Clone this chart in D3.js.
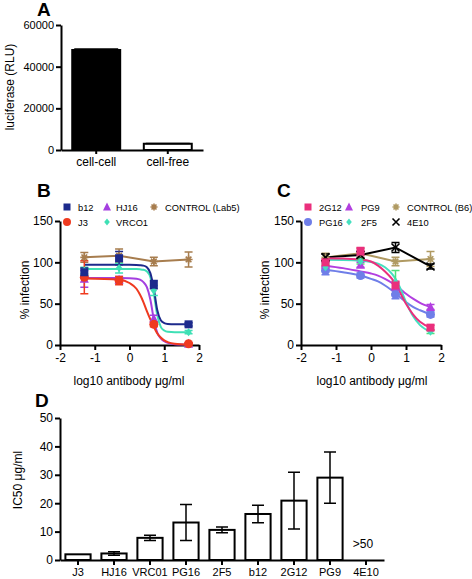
<!DOCTYPE html>
<html><head><meta charset="utf-8">
<script src="https://cdn.jsdelivr.net/npm/d3@7"></script>
<style>body{margin:0;background:#fff}svg{display:block;font-family:"Liberation Sans",Arial,sans-serif}</style>
</head><body><svg id="c" width="472" height="579"></svg>
<script>
// ---------- Panel A data ----------
const aCategories = ["cell-cell", "cell-free"];
const aValues = [48000, 3000];
const aErrors = [500, 150];
const aTicks = [0, 20000, 40000, 60000];

// ---------- Panel B / C shared ----------
const doseX = [-1.3, -0.3, 0.7, 1.7];
const dTicksX = [-2, -1, 0, 1, 2];
const dTicksY = [0, 50, 100, 150];

// Panel B measured points
const b12Vals = [88, 105, 73, 25];        const b12Err = [5, 8, 5, 2];
const j3Vals = [82, 78, 25, 1.5];         const j3Err = [20, 5, 3, 1];
const hj16Vals = [80, 79, 32, 1.5];       const hj16Err = [10, 4, 4, 1];
const vrco1Vals = [90, 93, 66, 15.5];     const vrco1Err = [4, 6, 6, 2];
const lab5Vals = [106, 108, 101, 103.5];  const lab5Err = [6, 8, 5, 9];

// Panel B fitted curves
const curveXB = [-1.3, -0.3, 0, 0.2, 0.3, 0.4, 0.5, 0.6, 0.7, 0.8, 0.9, 1.0, 1.1, 1.3, 1.7];
const b12Fit  = [97, 97, 97, 96.8, 96.5, 96, 94, 87, 68, 42, 30, 26.5, 25.5, 25, 25];
const vrco1Fit = [92, 92, 92, 91.8, 91.5, 91, 89, 82, 62, 36, 22, 17.5, 16, 15.5, 15.5];
const hj16Fit = [81, 81, 80.8, 80.2, 79, 76, 70, 55, 31, 15, 8, 4.5, 2.5, 1, 0.5];
const j3Fit   = [80.5, 79, 75, 68, 61, 52, 41, 31, 22, 14, 9, 5.5, 3.5, 1.5, 0.5];

// Panel C measured points
const g12Vals = [100, 113, 72, 21];       const g12Err = [4, 5, 5, 3];
const pg16Vals = [90, 84, 61, 37];        const pg16Err = [5, 3, 5, 3];
const pg9Vals = [97, 97, 71, 46];         const pg9Err = [3, 3, 4, 3];
const f5Vals = [94, 101, 76, 16];         const f5Err = [4, 3, 14, 2];
const b6Vals = [106, 111, 101, 104];      const b6Err = [5, 6, 5, 9];
const e10Vals = [106, 109, 118, 95];      const e10Err = [4, 4, 6, 3];

// Panel C fitted curves
const curveXC = [-1.3, -0.8, -0.3, 0, 0.2, 0.4, 0.6, 0.7, 0.8, 1.0, 1.2, 1.4, 1.7];
const g12Fit  = [105, 104.5, 103.5, 101, 96, 89, 80, 74, 66, 50, 37, 28, 21];
const f5Fit   = [103, 102.8, 102, 100.5, 98.5, 94, 86, 80, 72, 52, 35, 24, 16];
const pg9Fit  = [96, 93, 89, 86.5, 84, 80, 75, 72, 69, 62, 56, 51, 46];
const pg16Fit = [91, 88, 84, 80, 77, 72, 66, 63, 59, 52, 46, 42, 37];

// ---------- Panel D data ----------
const dCategories = ["J3", "HJ16", "VRC01", "PG16", "2F5", "b12", "2G12", "PG9", "4E10"];
const dValues = [2.0, 2.3, 7.8, 13.2, 10.6, 16.2, 20.9, 29.0, null];
const dErrors = [0, 0.6, 0.9, 6.3, 1.0, 3.1, 10.0, 9.0, null];
const dTicks = [0, 10, 20, 30, 40, 50];

const svg = d3.select("#c");
const FONT = '"Liberation Sans",Arial,sans-serif';

function styleAxis(g, fs) {
  g.select(".domain").attr("stroke", "#000").attr("stroke-width", 2);
  g.selectAll(".tick line").attr("stroke", "#000").attr("stroke-width", 2);
  g.selectAll(".tick text").attr("fill", "#000").style("font-size", fs + "px").style("font-family", FONT);
}
function panelLabel(t, x, y) {
  svg.append("text").attr("x", x).attr("y", y).text(t)
    .style("font-size", "19px").style("font-weight", "bold").style("font-family", FONT);
}
function yLabel(t, x, y, fs) {
  svg.append("text").attr("transform", `translate(${x},${y}) rotate(-90)`)
    .attr("text-anchor", "middle").text(t).style("font-size", fs + "px");
}

// ================= Panel A =================
panelLabel("A", 37, 16);
const xA = d3.scaleBand().domain(aCategories).range([61, 203]).paddingInner(0.33).paddingOuter(0.157);
const yA = d3.scaleLinear().domain([0, 60000]).range([150, 25]);
svg.append("g").attr("transform", "translate(0,150)")
  .call(d3.axisBottom(xA).tickSize(4).tickPadding(3).tickSizeOuter(0))
  .call(g => styleAxis(g, 12));
svg.append("g").attr("transform", "translate(61,0)")
  .call(d3.axisLeft(yA).tickValues(aTicks).tickSize(5).tickPadding(2).tickSizeOuter(0).tickFormat(d => String(d)))
  .call(g => styleAxis(g, 11));
aCategories.forEach((c, i) => {
  const x0 = xA(c), w = xA.bandwidth();
  svg.append("rect").attr("x", x0).attr("y", yA(aValues[i])).attr("width", w).attr("height", 150 - yA(aValues[i]))
    .attr("fill", i === 0 ? "#000" : "#fff").attr("stroke", "#000").attr("stroke-width", 2);
  const cx = x0 + w / 2, top = yA(aValues[i] + aErrors[i]);
  svg.append("line").attr("x1", cx).attr("x2", cx).attr("y1", yA(aValues[i])).attr("y2", top).attr("stroke", "#000").attr("stroke-width", 1.5);
  svg.append("line").attr("x1", x0 + 2).attr("x2", x0 + w - 2).attr("y1", top).attr("y2", top).attr("stroke", "#000").attr("stroke-width", 1.5);
});
yLabel("luciferase (RLU)", 14, 87, 12);

// ================= Panels B & C =================
function marker(g, type, x, y, color, s) {
  s = s || 4;
  if (type === "square") g.append("rect").attr("x", x - s).attr("y", y - s).attr("width", 2 * s).attr("height", 2 * s).attr("fill", color);
  else if (type === "circle") g.append("circle").attr("cx", x).attr("cy", y).attr("r", s + 0.5).attr("fill", color);
  else if (type === "triangle") g.append("path").attr("d", `M${x},${y - s - 1}L${x + s + 0.5},${y + s}L${x - s - 0.5},${y + s}Z`).attr("fill", color);
  else if (type === "diamond") g.append("path").attr("d", `M${x},${y - s}L${x + s * 0.8},${y}L${x},${y + s}L${x - s * 0.8},${y}Z`).attr("fill", color);
  else if (type === "star") {
    const r = s, d = r * 0.707;
    g.append("path").attr("d", `M${x - r},${y}L${x + r},${y}M${x},${y - r}L${x},${y + r}M${x - d},${y - d}L${x + d},${y + d}M${x - d},${y + d}L${x + d},${y - d}`)
      .attr("stroke", color).attr("stroke-width", 1.6).attr("fill", "none");
  } else if (type === "x") {
    const r = s;
    g.append("path").attr("d", `M${x - r},${y - r}L${x + r},${y + r}M${x - r},${y + r}L${x + r},${y - r}`)
      .attr("stroke", color).attr("stroke-width", 1.6).attr("fill", "none");
  }
}

function dosePanel(opts) {
  const x = d3.scaleLinear().domain([-2, 2]).range(opts.xr);
  const y = d3.scaleLinear().domain([0, 150]).range([345, 221]);
  svg.append("g").attr("transform", "translate(0,345)")
    .call(d3.axisBottom(x).tickValues(dTicksX).tickSize(5).tickPadding(3).tickSizeOuter(0).tickFormat(d => String(d)))
    .call(g => styleAxis(g, 12));
  svg.append("g").attr("transform", `translate(${opts.xr[0]},0)`)
    .call(d3.axisLeft(y).tickValues(dTicksY).tickSize(5).tickPadding(2).tickSizeOuter(0).tickFormat(d => String(d)))
    .call(g => styleAxis(g, 12));
  const g = svg.append("g");
  // curves / lines
  opts.series.forEach(s => {
    const pts = s.fit ? opts.curveX.map((cx, i) => [cx, s.fit[i]]) : doseX.map((cx, i) => [cx, s.vals[i]]);
    const line = d3.line().x(d => x(d[0])).y(d => y(d[1])).curve(s.fit ? d3.curveMonotoneX : d3.curveLinear);
    g.append("path").attr("d", line(pts)).attr("fill", "none").attr("stroke", s.color).attr("stroke-width", 2);
  });
  // error bars and markers
  opts.series.forEach(s => {
    doseX.forEach((cx, i) => {
      const px = x(cx), lo = y(s.vals[i] - s.err[i]), hi = y(s.vals[i] + s.err[i]);
      g.append("path").attr("d", `M${px},${lo}L${px},${hi}M${px - 4},${lo}L${px + 4},${lo}M${px - 4},${hi}L${px + 4},${hi}`)
        .attr("stroke", s.ecolor || s.color).attr("stroke-width", 1.5).attr("fill", "none");
    });
  });
  opts.series.forEach(s => {
    doseX.forEach((cx, i) => marker(g, s.marker, x(cx), y(s.vals[i]), s.color, 4));
  });
  // legend
  opts.series.forEach(s => {
    marker(svg, s.marker, s.lx, s.ly, s.color, 3.5);
    svg.append("text").attr("x", s.lx + s.tx).attr("y", s.ly + 3.5).text(s.name).style("font-size", "9.3px");
  });
  // x-label
  svg.append("text").attr("x", opts.labelX).attr("y", 385).attr("text-anchor", "middle")
    .text("log10 antibody \u03bcg/ml").style("font-size", "12px");
}

panelLabel("B", 37, 197);
dosePanel({
  xr: [60, 199], curveX: curveXB, labelX: 129,
  series: [
    { name: "CONTROL (Lab5)", vals: lab5Vals, err: lab5Err, color: "#a77d4e", marker: "star", lx: 154, ly: 207, tx: 11 },
    { name: "VRCO1", vals: vrco1Vals, err: vrco1Err, fit: vrco1Fit, color: "#3fe0b5", marker: "diamond", lx: 107, ly: 222, tx: 9 },
    { name: "HJ16", vals: hj16Vals, err: hj16Err, fit: hj16Fit, color: "#a43fe0", marker: "triangle", lx: 107, ly: 207, tx: 9 },
    { name: "J3", vals: j3Vals, err: j3Err, fit: j3Fit, color: "#ef3a1f", marker: "circle", lx: 67, ly: 222, tx: 11 },
    { name: "b12", vals: b12Vals, err: b12Err, fit: b12Fit, color: "#1d2a8c", marker: "square", lx: 67, ly: 207, tx: 11 }
  ]
});
yLabel("% infection", 29, 290, 12);

panelLabel("C", 277, 197);
dosePanel({
  xr: [301, 441], curveX: curveXC, labelX: 372,
  series: [
    { name: "CONTROL (B6)", vals: b6Vals, err: b6Err, color: "#b09a62", marker: "star", lx: 396, ly: 207, tx: 11 },
    { name: "4E10", vals: e10Vals, err: e10Err, color: "#000", marker: "x", lx: 396, ly: 222, tx: 11 },
    { name: "PG16", vals: pg16Vals, err: pg16Err, fit: pg16Fit, color: "#6f7ee8", marker: "circle", lx: 308, ly: 222, tx: 11 },
    { name: "PG9", vals: pg9Vals, err: pg9Err, fit: pg9Fit, color: "#b23fe0", marker: "triangle", lx: 349, ly: 207, tx: 12 },
    { name: "2F5", vals: f5Vals, err: f5Err, fit: f5Fit, color: "#45e0c0", ecolor: "#4ee07a", marker: "diamond", lx: 349, ly: 222, tx: 12 },
    { name: "2G12", vals: g12Vals, err: g12Err, fit: g12Fit, color: "#ea2f7c", marker: "square", lx: 308, ly: 207, tx: 11 }
  ]
});
yLabel("% infection", 269, 290, 12);

// ================= Panel D =================
panelLabel("D", 35, 407);
const xD = d3.scaleBand().domain(dCategories).range([60, 384]).paddingInner(0.3).paddingOuter(0.15);
const yD = d3.scaleLinear().domain([0, 50]).range([560, 418]);
svg.append("g").attr("transform", "translate(0,560)")
  .call(d3.axisBottom(xD).tickSize(5).tickPadding(3).tickSizeOuter(0))
  .call(g => styleAxis(g, 11));
svg.append("g").attr("transform", "translate(60,0)")
  .call(d3.axisLeft(yD).tickValues(dTicks).tickSize(5).tickPadding(2).tickSizeOuter(0))
  .call(g => styleAxis(g, 12));
dCategories.forEach((c, i) => {
  const x0 = xD(c), w = xD.bandwidth(), cx = x0 + w / 2;
  if (dValues[i] == null) {
    svg.append("text").attr("x", cx - 3).attr("y", 548).attr("text-anchor", "middle").text(">50").style("font-size", "12px");
    return;
  }
  svg.append("rect").attr("x", x0).attr("y", yD(dValues[i])).attr("width", w).attr("height", 560 - yD(dValues[i]))
    .attr("fill", "#fff").attr("stroke", "#000").attr("stroke-width", 2);
  if (dErrors[i] > 0) {
    const lo = yD(dValues[i] - dErrors[i]), hi = yD(dValues[i] + dErrors[i]);
    svg.append("path").attr("d", `M${cx},${lo}L${cx},${hi}M${cx - 6},${lo}L${cx + 6},${lo}M${cx - 6},${hi}L${cx + 6},${hi}`)
      .attr("stroke", "#000").attr("stroke-width", 1.5).attr("fill", "none");
  }
});
yLabel("IC50 \u03bcg/ml", 22, 480, 12);
</script></body></html>
